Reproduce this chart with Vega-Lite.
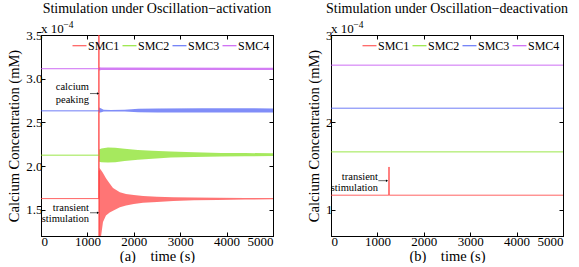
{
  "$schema": "https://vega.github.io/schema/vega-lite/v6.json",
  "background": "white",
  "padding": {"left": 6, "top": 1, "right": 2, "bottom": 0},
  "spacing": 32,
  "config": {
    "font": "Times New Roman, Liberation Serif, serif",
    "view": {"stroke": "black", "strokeWidth": 1},
    "style": {"guide-label": {"font": "Times New Roman, Liberation Serif, serif"}, "guide-title": {"font": "Times New Roman, Liberation Serif, serif"}, "group-title": {"font": "Times New Roman, Liberation Serif, serif"}},
    "axis": {"labelFont": "Times New Roman, Liberation Serif, serif", "labelFontSize": 13, "labelColor": "black", "titleFont": "Times New Roman, Liberation Serif, serif", "titleFontSize": 14.5, "titleFontWeight": "normal", "titleColor": "black", "domainColor": "black", "tickColor": "black", "tickSize": -4, "grid": false, "labelPadding": 3},
    "title": {"font": "Times New Roman, Liberation Serif, serif", "fontSize": 14, "fontWeight": "normal", "color": "black", "offset": 0},
    "legend": {"orient": "top-right", "direction": "horizontal", "symbolType": "stroke", "labelFont": "Times New Roman, Liberation Serif, serif", "labelFontSize": 12, "labelColor": "black", "symbolSize": 196, "symbolStrokeWidth": 1, "labelOffset": 1, "columnPadding": 0, "offset": 1, "padding": 2, "title": null}
  },
  "datasets": {
    "lines": [
      {"p": "a", "s": "SMC1", "t": 0, "v": 1.628, "o": 0},
      {"p": "a", "s": "SMC1", "t": 1245, "v": 1.628, "o": 1},
      {"p": "a", "s": "SMC1", "t": 1248, "v": 4.0, "o": 2},
      {"p": "a", "s": "SMC1", "t": 1252, "v": 1.0, "o": 3},
      {"p": "a", "s": "SMC1", "t": 1256, "v": 1.95, "o": 4},
      {"p": "a", "s": "SMC2", "t": 0, "v": 2.125, "o": 0},
      {"p": "a", "s": "SMC2", "t": 1252, "v": 2.125, "o": 1},
      {"p": "a", "s": "SMC3", "t": 0, "v": 2.632, "o": 0},
      {"p": "a", "s": "SMC3", "t": 1252, "v": 2.632, "o": 1},
      {"p": "a", "s": "SMC4", "t": 0, "v": 3.114, "o": 0},
      {"p": "a", "s": "SMC4", "t": 1252, "v": 3.114, "o": 1},
      {"p": "b", "s": "SMC1", "t": 0, "v": 1.167, "o": 0},
      {"p": "b", "s": "SMC1", "t": 1245, "v": 1.167, "o": 1},
      {"p": "b", "s": "SMC1", "t": 1250, "v": 1.49, "o": 2},
      {"p": "b", "s": "SMC1", "t": 1255, "v": 1.167, "o": 3},
      {"p": "b", "s": "SMC1", "t": 5000, "v": 1.167, "o": 4},
      {"p": "b", "s": "SMC2", "t": 0, "v": 1.6625, "o": 0},
      {"p": "b", "s": "SMC2", "t": 5000, "v": 1.6625, "o": 1},
      {"p": "b", "s": "SMC3", "t": 0, "v": 2.1625, "o": 0},
      {"p": "b", "s": "SMC3", "t": 5000, "v": 2.1625, "o": 1},
      {"p": "b", "s": "SMC4", "t": 0, "v": 2.655, "o": 0},
      {"p": "b", "s": "SMC4", "t": 5000, "v": 2.655, "o": 1}
    ],
    "bands": [
      {"s": "SMC1", "t": 1256, "lo": 1.05, "hi": 1.98},
      {"s": "SMC1", "t": 1300, "lo": 1.22, "hi": 1.95},
      {"s": "SMC1", "t": 1336, "lo": 1.36, "hi": 1.92},
      {"s": "SMC1", "t": 1400, "lo": 1.435, "hi": 1.86},
      {"s": "SMC1", "t": 1480, "lo": 1.47, "hi": 1.8},
      {"s": "SMC1", "t": 1552, "lo": 1.49, "hi": 1.75},
      {"s": "SMC1", "t": 1700, "lo": 1.53, "hi": 1.7},
      {"s": "SMC1", "t": 1832, "lo": 1.55, "hi": 1.68},
      {"s": "SMC1", "t": 2000, "lo": 1.565, "hi": 1.67},
      {"s": "SMC1", "t": 2200, "lo": 1.58, "hi": 1.658},
      {"s": "SMC1", "t": 2500, "lo": 1.59, "hi": 1.65},
      {"s": "SMC1", "t": 2850, "lo": 1.6, "hi": 1.644},
      {"s": "SMC1", "t": 3300, "lo": 1.608, "hi": 1.64},
      {"s": "SMC1", "t": 3800, "lo": 1.613, "hi": 1.638},
      {"s": "SMC1", "t": 4400, "lo": 1.617, "hi": 1.636},
      {"s": "SMC1", "t": 5000, "lo": 1.62, "hi": 1.634},
      {"s": "SMC2", "t": 1252, "lo": 2.05, "hi": 2.19},
      {"s": "SMC2", "t": 1300, "lo": 2.045, "hi": 2.2},
      {"s": "SMC2", "t": 1444, "lo": 2.042, "hi": 2.212},
      {"s": "SMC2", "t": 1600, "lo": 2.045, "hi": 2.21},
      {"s": "SMC2", "t": 1800, "lo": 2.058, "hi": 2.198},
      {"s": "SMC2", "t": 2090, "lo": 2.072, "hi": 2.185},
      {"s": "SMC2", "t": 2400, "lo": 2.085, "hi": 2.176},
      {"s": "SMC2", "t": 2800, "lo": 2.099, "hi": 2.167},
      {"s": "SMC2", "t": 3300, "lo": 2.105, "hi": 2.158},
      {"s": "SMC2", "t": 3880, "lo": 2.11, "hi": 2.151},
      {"s": "SMC2", "t": 4400, "lo": 2.112, "hi": 2.149},
      {"s": "SMC2", "t": 5000, "lo": 2.114, "hi": 2.147},
      {"s": "SMC3", "t": 1252, "lo": 2.61, "hi": 2.67},
      {"s": "SMC3", "t": 1300, "lo": 2.615, "hi": 2.66},
      {"s": "SMC3", "t": 1350, "lo": 2.625, "hi": 2.645},
      {"s": "SMC3", "t": 1500, "lo": 2.626, "hi": 2.642},
      {"s": "SMC3", "t": 1800, "lo": 2.624, "hi": 2.645},
      {"s": "SMC3", "t": 2100, "lo": 2.616, "hi": 2.655},
      {"s": "SMC3", "t": 2500, "lo": 2.613, "hi": 2.66},
      {"s": "SMC3", "t": 3500, "lo": 2.612, "hi": 2.662},
      {"s": "SMC3", "t": 5000, "lo": 2.612, "hi": 2.66},
      {"s": "SMC4", "t": 1252, "lo": 3.095, "hi": 3.13},
      {"s": "SMC4", "t": 1300, "lo": 3.1, "hi": 3.127},
      {"s": "SMC4", "t": 5000, "lo": 3.1, "hi": 3.125}
    ],
    "notes": [
      {"p": "a", "t": 1034, "v": 2.909, "txt": "calcium"},
      {"p": "a", "t": 1034, "v": 2.761, "txt": "peaking"},
      {"p": "a", "t": 1034, "v": 1.523, "txt": "transient"},
      {"p": "a", "t": 1034, "v": 1.398, "txt": "stimulation"},
      {"p": "b", "t": 1013, "v": 1.379, "txt": "transient"},
      {"p": "b", "t": 1013, "v": 1.253, "txt": "stimulation"}
    ],
    "arrows": [
      {"p": "a", "t1": 1056, "t2": 1228, "v": 2.83},
      {"p": "a", "t1": 1056, "t2": 1228, "v": 1.466},
      {"p": "b", "t1": 1020, "t2": 1207, "v": 1.333}
    ],
    "exps": [
      {"p": "a", "t": 0, "ts": 480, "v": 3.5, "base": "x 10", "sup": "−4"},
      {"p": "b", "t": 0, "ts": 480, "v": 3.0, "base": "x 10", "sup": "−4"}
    ]
  },
  "resolve": {"scale": {"color": "independent"}},
  "hconcat": [
    {
      "width": 232,
      "height": 201,
      "title": "Stimulation under Oscillation−activation",
      "resolve": {"axis": {"x": "independent", "y": "independent"}},
      "encoding": {
        "x": {"field": "t", "type": "quantitative", "scale": {"domain": [0, 5000], "nice": false}, "axis": null},
        "y": {"field": "v", "type": "quantitative", "scale": {"domain": [1.2, 3.5], "nice": false, "zero": false}, "axis": null}
      },
      "layer": [
        {
          "data": {"name": "bands"},
          "mark": {"type": "area", "opacity": 0.7, "clip": true},
          "encoding": {
            "y": {"field": "lo", "type": "quantitative", "scale": {"domain": [1.2, 3.5], "nice": false, "zero": false}, "axis": null},
            "y2": {"field": "hi"},
            "fill": {"field": "s", "type": "nominal", "scale": {"domain": ["SMC1", "SMC2", "SMC3", "SMC4"], "range": ["#ff3b3b", "#80e01a", "#4a5cf5", "#c046f0"]}, "legend": null}
          }
        },
        {
          "data": {"name": "lines"},
          "transform": [{"filter": "datum.p === 'a'"}],
          "mark": {"type": "line", "strokeWidth": 0.8, "clip": true},
          "encoding": {
            "x": {"field": "t", "type": "quantitative", "scale": {"domain": [0, 5000], "nice": false}, "axis": {"values": [0, 1000, 2000, 3000, 4000, 5000], "format": "d", "title": "(a)\u00a0\u00a0\u00a0\u00a0time (s)", "titlePadding": 1}},
            "y": {"field": "v", "type": "quantitative", "scale": {"domain": [1.2, 3.5], "nice": false, "zero": false}, "axis": {"values": [1.5, 2, 2.5, 3, 3.5], "title": "Calcium Concentration (mM)", "titlePadding": 4}},
            "color": {"field": "s", "type": "nominal", "scale": {"domain": ["SMC1", "SMC2", "SMC3", "SMC4"], "range": ["#ff3b3b", "#80e01a", "#4a5cf5", "#c046f0"]}, "legend": {"columnPadding": 0, "symbolSize": 196, "labelOffset": 1, "labelFontSize": 12}},
            "order": {"field": "o", "type": "quantitative"}
          }
        },
        {
          "data": {"name": "notes"},
          "transform": [{"filter": "datum.p === 'a'"}],
          "mark": {"type": "text", "align": "right", "baseline": "middle", "fontSize": 10.5, "font": "Times New Roman, Liberation Serif, serif", "color": "black"},
          "encoding": {
            "x": {"field": "t", "type": "quantitative", "scale": {"domain": [0, 5000], "nice": false}, "axis": {"orient": "top", "values": [0, 1000, 2000, 3000, 4000, 5000], "labels": false, "title": null}},
            "y": {"field": "v", "type": "quantitative", "scale": {"domain": [1.2, 3.5], "nice": false, "zero": false}, "axis": {"orient": "right", "values": [1.5, 2, 2.5, 3, 3.5], "labels": false, "title": null}},
            "text": {"field": "txt"}
          }
        },
        {
          "data": {"name": "arrows"},
          "transform": [{"filter": "datum.p === 'a'"}],
          "mark": {"type": "rule", "color": "black", "strokeWidth": 0.6},
          "encoding": {"x": {"field": "t1", "type": "quantitative", "scale": {"domain": [0, 5000], "nice": false}, "axis": null}, "x2": {"field": "t2"}}
        },
        {
          "data": {"name": "arrows"},
          "transform": [{"filter": "datum.p === 'a'"}],
          "mark": {"type": "point", "shape": "triangle-right", "filled": true, "color": "black", "size": 6, "opacity": 1},
          "encoding": {"x": {"field": "t2", "type": "quantitative", "scale": {"domain": [0, 5000], "nice": false}, "axis": null}}
        },
        {
          "data": {"name": "exps"},
          "transform": [{"filter": "datum.p === 'a'"}],
          "mark": {"type": "text", "align": "left", "baseline": "alphabetic", "dy": -2, "fontSize": 13, "font": "Times New Roman, Liberation Serif, serif", "color": "black"},
          "encoding": {"text": {"field": "base"}}
        },
        {
          "data": {"name": "exps"},
          "transform": [{"filter": "datum.p === 'a'"}],
          "mark": {"type": "text", "align": "left", "baseline": "alphabetic", "dy": -7, "fontSize": 9.5, "font": "Times New Roman, Liberation Serif, serif", "color": "black"},
          "encoding": {"x": {"field": "ts", "type": "quantitative", "scale": {"domain": [0, 5000], "nice": false}, "axis": null}, "text": {"field": "sup"}}
        }
      ]
    },
    {
      "width": 232,
      "height": 201,
      "title": "Stimulation under Oscillation−deactivation",
      "resolve": {"axis": {"x": "independent", "y": "independent"}},
      "encoding": {
        "x": {"field": "t", "type": "quantitative", "scale": {"domain": [0, 5000], "nice": false}, "axis": null},
        "y": {"field": "v", "type": "quantitative", "scale": {"domain": [0.7, 3.0], "nice": false, "zero": false}, "axis": null}
      },
      "layer": [
        {
          "data": {"name": "lines"},
          "transform": [{"filter": "datum.p === 'b'"}],
          "mark": {"type": "line", "strokeWidth": 0.8, "clip": true},
          "encoding": {
            "x": {"field": "t", "type": "quantitative", "scale": {"domain": [0, 5000], "nice": false}, "axis": {"values": [0, 1000, 2000, 3000, 4000, 5000], "format": "d", "title": "(b)\u00a0\u00a0\u00a0\u00a0time (s)", "titlePadding": 1}},
            "y": {"field": "v", "type": "quantitative", "scale": {"domain": [0.7, 3.0], "nice": false, "zero": false}, "axis": {"values": [1, 2, 3], "title": "Calcium Concentration (mM)", "titlePadding": 4}},
            "color": {"field": "s", "type": "nominal", "scale": {"domain": ["SMC1", "SMC2", "SMC3", "SMC4"], "range": ["#ff3b3b", "#80e01a", "#4a5cf5", "#c046f0"]}, "legend": {"columnPadding": 0, "symbolSize": 196, "labelOffset": 1, "labelFontSize": 12}},
            "order": {"field": "o", "type": "quantitative"}
          }
        },
        {
          "data": {"name": "notes"},
          "transform": [{"filter": "datum.p === 'b'"}],
          "mark": {"type": "text", "align": "right", "baseline": "middle", "fontSize": 10.5, "font": "Times New Roman, Liberation Serif, serif", "color": "black"},
          "encoding": {
            "x": {"field": "t", "type": "quantitative", "scale": {"domain": [0, 5000], "nice": false}, "axis": {"orient": "top", "values": [0, 1000, 2000, 3000, 4000, 5000], "labels": false, "title": null}},
            "y": {"field": "v", "type": "quantitative", "scale": {"domain": [0.7, 3.0], "nice": false, "zero": false}, "axis": {"orient": "right", "values": [1, 2, 3], "labels": false, "title": null}},
            "text": {"field": "txt"}
          }
        },
        {
          "data": {"name": "arrows"},
          "transform": [{"filter": "datum.p === 'b'"}],
          "mark": {"type": "rule", "color": "black", "strokeWidth": 0.6},
          "encoding": {"x": {"field": "t1", "type": "quantitative", "scale": {"domain": [0, 5000], "nice": false}, "axis": null}, "x2": {"field": "t2"}}
        },
        {
          "data": {"name": "arrows"},
          "transform": [{"filter": "datum.p === 'b'"}],
          "mark": {"type": "point", "shape": "triangle-right", "filled": true, "color": "black", "size": 6, "opacity": 1},
          "encoding": {"x": {"field": "t2", "type": "quantitative", "scale": {"domain": [0, 5000], "nice": false}, "axis": null}}
        },
        {
          "data": {"name": "exps"},
          "transform": [{"filter": "datum.p === 'b'"}],
          "mark": {"type": "text", "align": "left", "baseline": "alphabetic", "dy": -2, "fontSize": 13, "font": "Times New Roman, Liberation Serif, serif", "color": "black"},
          "encoding": {"text": {"field": "base"}}
        },
        {
          "data": {"name": "exps"},
          "transform": [{"filter": "datum.p === 'b'"}],
          "mark": {"type": "text", "align": "left", "baseline": "alphabetic", "dy": -7, "fontSize": 9.5, "font": "Times New Roman, Liberation Serif, serif", "color": "black"},
          "encoding": {"x": {"field": "ts", "type": "quantitative", "scale": {"domain": [0, 5000], "nice": false}, "axis": null}, "text": {"field": "sup"}}
        }
      ]
    }
  ]
}
